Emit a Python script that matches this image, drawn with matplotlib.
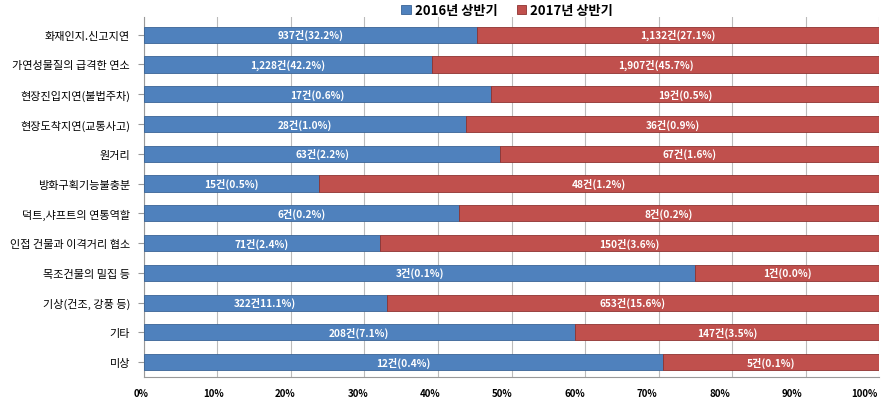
import matplotlib
matplotlib.use("Agg")
import matplotlib.pyplot as plt
import matplotlib.transforms as mtransforms
import numpy as np

plt.rcParams["font.family"] = ["Noto Sans CJK KR", "DejaVu Sans"]

categories = [
    "화재인지.신고지연",
    "가연성물질의 급격한 연소",
    "현장진입지연(불법주차)",
    "현장도착지연(교통사고)",
    "원거리",
    "방화구획기능불충분",
    "덕트,샤프트의 연통역할",
    "인접 건물과 이격거리 협소",
    "목조건물의 밀집 등",
    "기상(건조, 강풍 등)",
    "기타",
    "미상",
]
count_2016 = [937, 1228, 17, 28, 63, 15, 6, 71, 3, 322, 208, 12]
count_2017 = [1132, 1907, 19, 36, 67, 48, 8, 150, 1, 653, 147, 5]
labels_2016 = [
    "937건(32.2%)", "1,228건(42.2%)", "17건(0.6%)", "28건(1.0%)", "63건(2.2%)",
    "15건(0.5%)", "6건(0.2%)", "71건(2.4%)", "3건(0.1%)", "322건11.1%)",
    "208건(7.1%)", "12건(0.4%)",
]
labels_2017 = [
    "1,132건(27.1%)", "1,907건(45.7%)", "19건(0.5%)", "36건(0.9%)", "67건(1.6%)",
    "48건(1.2%)", "8건(0.2%)", "150건(3.6%)", "1건(0.0%)", "653건(15.6%)",
    "147건(3.5%)", "5건(0.1%)",
]
series_names = ["2016년 상반기", "2017년 상반기"]
xticks = np.arange(0, 1.01, 0.1)

blue = "#4F81BD"
red = "#C0504D"

a = np.array(count_2016, dtype=float)
b = np.array(count_2017, dtype=float)
share_a = a / (a + b)
share_b = b / (a + b)
y = np.arange(len(categories))

fig = plt.figure(figsize=(8.82, 4.06), dpi=100)
ax = fig.add_axes([0.163, 0.069, 0.834, 0.887])

h = 0.54
bars_a = ax.barh(y, share_a, height=h, color=blue, edgecolor="#3A6496", linewidth=0.6,
                 label=series_names[0], zorder=3)
bars_b = ax.barh(y, share_b, left=share_a, height=h, color=red, edgecolor="#8E3330",
                 linewidth=0.6, label=series_names[1], zorder=3)

for i in range(len(categories)):
    ax.text(share_a[i] / 2, y[i], labels_2016[i], ha="center", va="center",
            color="white", fontsize=7.3, fontweight="bold", zorder=4)
    ax.text(share_a[i] + share_b[i] / 2, y[i], labels_2017[i], ha="center",
            va="center", color="white", fontsize=7.3, fontweight="bold", zorder=4)

ax.set_xlim(0, 1)
ax.set_ylim(len(categories) - 0.5, -0.6)
ax.set_yticks(y)
ax.set_yticklabels(categories, fontsize=8, fontweight="medium")
ax.set_xticks(xticks)
ax.set_xticklabels([f"{int(round(t * 100))}%" for t in xticks], fontsize=7,
                   fontweight="bold")
ax.tick_params(axis="y", length=4, color="#999999", pad=6)
ax.tick_params(axis="x", length=0, pad=8)
ax.grid(axis="x", color="#BBBBBB", linewidth=0.8, zorder=0)
for side in ["top", "right"]:
    ax.spines[side].set_visible(False)
ax.spines["left"].set_color("#999999")
ax.spines["bottom"].set_color("#999999")

# the perspective floor pulls the percent labels slightly left
for t, lab in zip(xticks, ax.get_xticklabels()):
    shift = mtransforms.ScaledTranslation(-(3 + 12 * t) / 100, 0, fig.dpi_scale_trans)
    lab.set_transform(lab.get_transform() + shift)

fig.legend(handles=[bars_a, bars_b], labels=series_names, loc="upper center",
           bbox_to_anchor=(0.575, 1.02), ncol=2, frameon=False,
           prop={"weight": "bold", "size": 9.5}, handlelength=0.7, handleheight=0.7,
           columnspacing=1.5, handletextpad=0.3)

fig.savefig("out.png", dpi=100)
